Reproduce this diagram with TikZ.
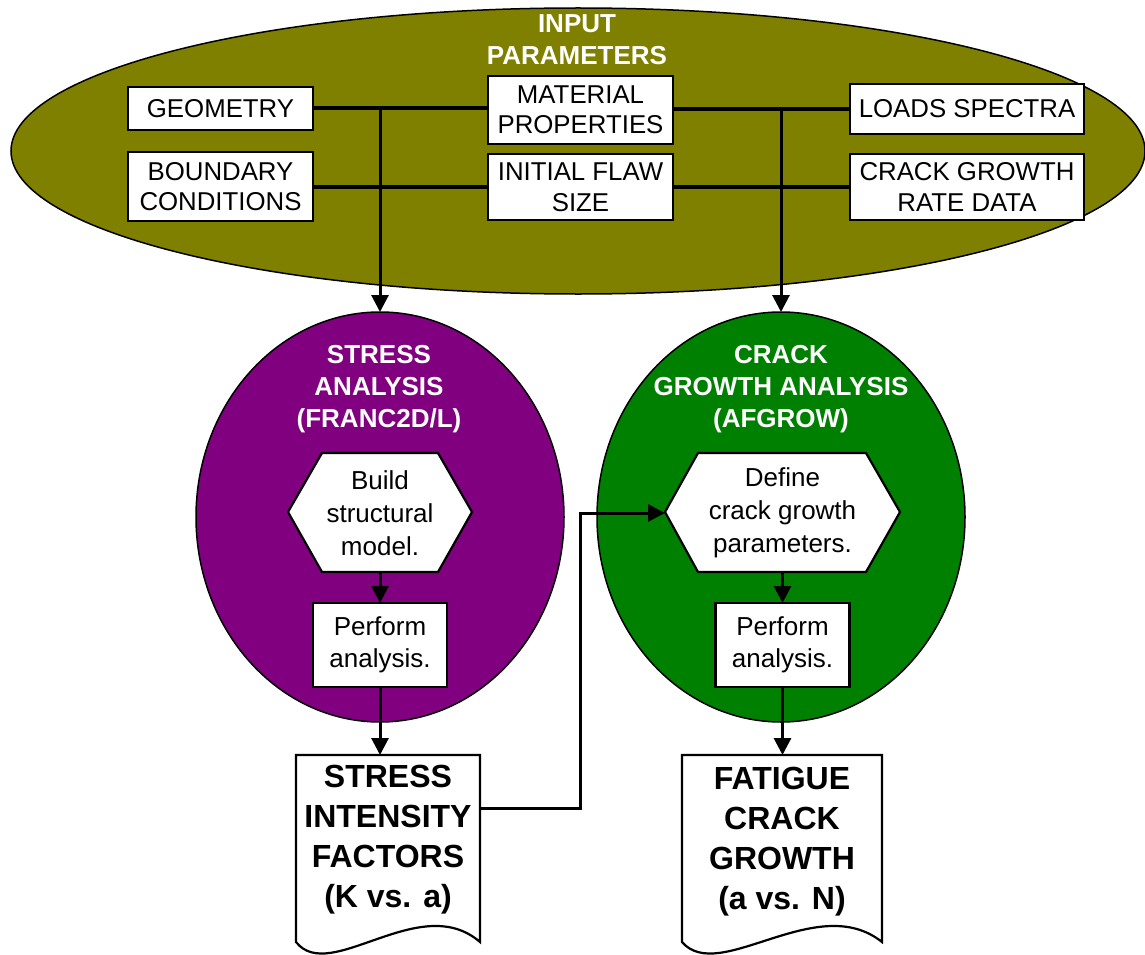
\documentclass[tikz,border=0pt]{standalone}
\usepackage{fontspec}
\setmainfont{Liberation Sans}
\usetikzlibrary{arrows.meta,shapes.geometric,calc}
\definecolor{oliveC}{RGB}{128,128,0}
\definecolor{purpleC}{RGB}{128,0,128}
\definecolor{greenC}{RGB}{0,128,0}
\begin{document}
\begin{tikzpicture}[x=1pt,y=-1pt,
  every node/.style={inner sep=0pt, outer sep=0pt},
  inbox/.style={draw, line width=2.2pt, fill=white, align=center, font=\fontsize{25.8}{30.5}\selectfont},
  oval/.style={ellipse, draw, line width=1.5pt},
  title/.style={text=white, align=center, font=\fontsize{26}{32}\selectfont\bfseries},
  hextext/.style={align=center, font=\fontsize{26}{33}\selectfont},
  stepbox/.style={draw, line width=2.2pt, fill=white, align=center, font=\fontsize{26}{32}\selectfont, minimum width=134pt, minimum height=84pt},
  doctext/.style={align=center, font=\fontsize{32}{40}\selectfont\bfseries},
  shapeline/.style={draw, line width=2.2pt, fill=white},
  link/.style={line width=4pt},
  arrow/.style={line width=3pt, -{Triangle[width=17pt,length=17pt]}},
]
\useasboundingbox (0,0) rectangle (1145,955);

% input ellipse
\node[oval, fill=oliveC, minimum width=1134pt, minimum height=286pt] (inp) at (578,151) {};
\node[title] (inT) at (577,40) {INPUT\\PARAMETERS};

\node[inbox, minimum width=185pt, minimum height=43pt] (geo) at (220.5,108.5) {GEOMETRY};
\node[inbox, minimum width=185pt, minimum height=69pt] (bc) at (220.5,186.5) {BOUNDARY\\CONDITIONS};
\node[inbox, minimum width=185pt, minimum height=68pt] (mat) at (580.5,110) {MATERIAL\\PROPERTIES};
\node[inbox, minimum width=185pt, minimum height=66pt] (flaw) at (580.5,187) {INITIAL FLAW\\SIZE};
\node[inbox, minimum width=234pt, minimum height=50pt] (loads) at (967,109) {LOADS SPECTRA};
\node[inbox, minimum width=234pt, minimum height=66pt] (crd) at (967,187) {CRACK GROWTH\\RATE DATA};

\draw[link] (geo.east) -- (geo.east -| mat.west);
\draw[link] (mat.east |- loads.west) -- (loads.west);
\draw[link] (bc.east) -- (bc.east -| flaw.west);
\draw[link] (flaw.east |- crd.west) -- (crd.west);

% analysis circles
\node[oval, fill=purpleC, minimum width=368pt, minimum height=410pt] (stressC) at (380,517) {};
\node[oval, fill=greenC, minimum width=368pt, minimum height=410pt] (growthC) at (781,517) {};
\node[title] (stT) at (379,389) {STRESS\\ANALYSIS\\(FRANC2D/L)};
\node[title] (grT) at (781,389) {CRACK\\GROWTH ANALYSIS\\(AFGROW)};

% hexagons
\draw[shapeline] (288,512) -- (322,453) -- (438,453) -- (472,512) -- (438,572) -- (322,572) -- cycle;
\draw[shapeline] (665,512) -- (698,453) -- (866,453) -- (900,512) -- (866,572) -- (698,572) -- cycle;
\node[hextext, minimum width=184pt, minimum height=119pt] (hexA) at (380,513) {Build\\structural\\model.};
\node[hextext, minimum width=235pt, minimum height=119pt] (hexB) at (782.5,513) {Define\\crack growth\\parameters.};

\node[stepbox] (perfA) at (380,645) {Perform\\analysis.};
\node[stepbox] (perfB) at (782.5,645) {Perform\\analysis.};

% documents
\draw[shapeline] (296,755) -- (480,755) -- (480,942) .. controls (420,890) and (330,985) .. (296,942) -- cycle;
\draw[shapeline] (682,755) -- (882,755) -- (882,942) .. controls (817,890) and (719,985) .. (682,942) -- cycle;
\node[doctext, minimum width=184pt, minimum height=170pt] (docA) at (388,840) {STRESS\\INTENSITY\\FACTORS\\(K vs. a)};
\node[doctext, minimum width=200pt, minimum height=174pt] (docB) at (782,842) {FATIGUE\\CRACK\\GROWTH\\(a vs. N)};

% arrows
\draw[arrow] (geo.east -| stressC.north) -- (stressC.north);
\draw[arrow] (loads.west -| growthC.north) -- (growthC.north);
\draw[arrow] (hexA) -- (perfA);
\draw[arrow] (hexB) -- (perfB);
\draw[arrow] (perfA.south) -- (perfA.south |- docA.north);
\draw[arrow] (perfB.south) -- (perfB.south |- docB.north);
\draw[arrow] ([yshift=32pt]docA.east) -| ($(hexB.west)+(-85,0)$) -- (hexB.west);
\end{tikzpicture}
\end{document}
